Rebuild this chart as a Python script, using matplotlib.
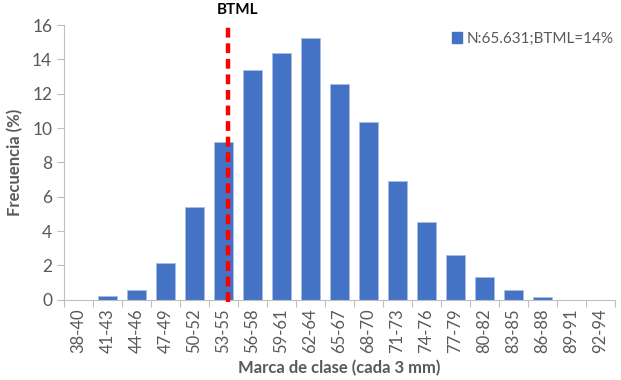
import numpy as np
import matplotlib.pyplot as plt
from matplotlib.patches import Patch

# Class marks (3 mm bins) and frequency in percent
clases = ["38-40", "41-43", "44-46", "47-49", "50-52", "53-55", "56-58",
          "59-61", "62-64", "65-67", "68-70", "71-73", "74-76", "77-79",
          "80-82", "83-85", "86-88", "89-91", "92-94"]
frecuencia = [0.0, 0.25, 0.6, 2.17, 5.4, 9.22, 13.37, 14.36, 15.27, 12.58,
              10.35, 6.9, 4.53, 2.62, 1.30, 0.60, 0.19, 0.0, 0.0]
btml_pos = 5.17  # position of BTML inside the class axis
leyenda = "N:65.631;BTML=14%"

gris = "#595959"
azul = "#4472C4"
plt.rcParams['font.family'] = ['Lato', 'DejaVu Sans']

fig = plt.figure(figsize=(6.21, 3.8), dpi=100)
ax = fig.add_axes([0.103, 0.211, 0.887, 0.723])

x = np.arange(len(clases))
ax.bar(x, frecuencia, width=0.64, color=azul, edgecolor="#a9bde3", linewidth=0.6)

# BTML reference line
ax.plot([btml_pos, btml_pos], [-0.15, 15.9], color="#ff0000", lw=3.2,
        ls=(0, (2.2, 1.3)), clip_on=False, zorder=5)
ax.text(btml_pos + 0.3, 16.9, "BTML", ha="center", va="center",
        fontsize=11, fontweight="bold", color="black")

ax.set_xlim(-0.5, len(clases) - 0.5)
ax.set_ylim(0, 16)
ax.set_yticks(np.arange(0, 17, 2))
ax.set_xticks(x)
ax.set_xticklabels(clases, rotation=90, color=gris, fontsize=12)
ax.tick_params(axis="x", length=0, pad=6)
ax.set_xticks(np.arange(-0.5, len(clases), 1), minor=True)
ax.tick_params(axis="x", which="minor", length=5, color="#bfbfbf", width=0.8)
ax.tick_params(axis="y", length=5, color="#bfbfbf", width=0.8,
               labelcolor=gris, labelsize=12.5)

for s in ["top", "right"]:
    ax.spines[s].set_visible(False)
for s in ["left", "bottom"]:
    ax.spines[s].set_color("#bfbfbf")
    ax.spines[s].set_linewidth(0.8)

ax.set_ylabel("Frecuencia (%)", fontsize=12, fontweight="bold", color=gris, labelpad=6)
ax.set_xlabel("Marca de clase (cada 3 mm)", fontsize=12, fontweight="bold",
              color=gris, labelpad=5)

ax.legend(handles=[Patch(facecolor=azul, edgecolor=azul)], labels=[leyenda],
          loc="upper left", bbox_to_anchor=(0.705, 0.975), frameon=False,
          handlelength=0.65, handleheight=0.65, handletextpad=0.3,
          fontsize=11, labelcolor=gris, borderaxespad=0, borderpad=0)

fig.savefig("out.png", dpi=100)
